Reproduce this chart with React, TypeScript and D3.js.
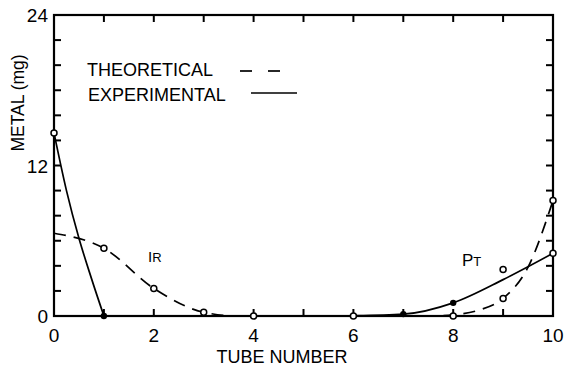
import React from "react";
import * as d3 from "d3";

// Tube positions along the x axis and the axis tick labels
const xTickLabels = [0, 2, 4, 6, 8, 10];
const xMinorTicks = [1, 2, 3, 4, 5, 6, 7, 8, 9];
const yTickLabels = [0, 12, 24];
const yMinorTicks = [2, 4, 6, 8, 10, 12, 14, 16, 18, 20, 22];

// Iridium: theoretical (dashed) and experimental (solid) distribution curves
const irTheoretical: [number, number][] = [[0, 6.6], [1, 5.4], [2, 2.2], [3, 0.3], [3.7, 0], [5, 0]];
const irExperimental: [number, number][] = [[0, 14.6], [0.25, 10.0], [0.5, 6.2], [0.75, 3.0], [1, 0]];

// Platinum: theoretical (dashed) and experimental (solid) distribution curves
const ptTheoretical: [number, number][] = [[5, 0], [7.6, 0], [8, 0.1], [8.5, 0.45], [9, 1.4], [9.5, 3.9], [10, 9.2]];
const ptExperimental: [number, number][] = [[5.5, 0], [6, 0.02], [7, 0.15], [8, 1.05], [9, 2.9], [10, 5.0]];

// Measured tube contents
const openPoints: [number, number][] = [[0, 14.6], [1, 5.4], [2, 2.2], [3, 0.3], [4, 0], [6, 0], [8, 0], [9, 1.4], [9, 3.7], [10, 9.2], [10, 5.0]];
const filledPoints: [number, number][] = [[1, 0], [7, 0.15], [8, 1.05]];

const W = 564;
const H = 366;
const FONT = "'Liberation Sans', Arial, sans-serif";

export default function App() {
  const x = d3.scaleLinear().domain([0, 10]).range([54, 553]);
  const y = d3.scaleLinear().domain([0, 24]).range([316, 15]);

  const line = d3
    .line<[number, number]>()
    .x((d) => x(d[0]))
    .y((d) => y(d[1]))
    .curve(d3.curveMonotoneX);

  const [x0, x1] = x.range();
  const [y0, y1] = y.range();

  return (
    <svg
      width={W}
      height={H}
      style={{ position: "absolute", left: 0, top: 0, background: "#fff" }}
      fontFamily={FONT}
    >
      <rect width={W} height={H} fill="#fff" />

      {/* curves */}
      <g fill="none" stroke="#000" strokeWidth={1.7}>
        <path d={line(irExperimental) || ""} />
        <path d={line(ptExperimental) || ""} />
        <path d={line(irTheoretical) || ""} strokeDasharray="12 8" />
        <path d={line(ptTheoretical) || ""} strokeDasharray="12 8" />
      </g>

      {/* frame */}
      <rect x={x0} y={y1} width={x1 - x0} height={y0 - y1} fill="none" stroke="#000" strokeWidth={2.2} />

      {/* inward ticks */}
      <g stroke="#000" strokeWidth={2}>
        {yMinorTicks.map((v) => (
          <g key={"y" + v}>
            <line x1={x0} x2={x0 + 7} y1={y(v)} y2={y(v)} />
            <line x1={x1} x2={x1 - 7} y1={y(v)} y2={y(v)} />
          </g>
        ))}
        {xMinorTicks.map((v) => (
          <g key={"x" + v}>
            <line x1={x(v)} x2={x(v)} y1={y1} y2={y1 + 7} />
            <line x1={x(v)} x2={x(v)} y1={y0} y2={y0 - 7} />
          </g>
        ))}
      </g>

      {/* data points */}
      {openPoints.map((p, i) => (
        <circle key={"o" + i} cx={x(p[0])} cy={y(p[1])} r={3} fill="#fff" stroke="#000" strokeWidth={1.5} />
      ))}
      {filledPoints.map((p, i) => (
        <circle key={"f" + i} cx={x(p[0])} cy={y(p[1])} r={3.2} fill="#000" />
      ))}

      {/* tick labels */}
      <g fontSize={19} fill="#000">
        {xTickLabels.map((v) => (
          <text key={"xl" + v} x={x(v)} y={342} textAnchor="middle">
            {v}
          </text>
        ))}
        {yTickLabels.map((v) => (
          <text key={"yl" + v} x={x0 - 6} y={y(v) + 7} textAnchor="end">
            {v}
          </text>
        ))}
      </g>

      {/* axis titles */}
      <text x={282} y={363} textAnchor="middle" fontSize={18}>
        TUBE NUMBER
      </text>
      <text transform="translate(24,103) rotate(-90)" textAnchor="middle" fontSize={17.5}>
        METAL (mg)
      </text>

      {/* legend */}
      <text x={87} y={76} fontSize={18}>THEORETICAL</text>
      <g stroke="#000" strokeWidth={1.7}>
        <line x1={240} x2={252} y1={71} y2={71} />
        <line x1={268} x2={280} y1={71} y2={71} />
        <line x1={251} x2={297} y1={93} y2={93} />
      </g>
      <text x={88} y={101} fontSize={18}>EXPERIMENTAL</text>

      {/* element labels */}
      <text x={148} y={262} fontSize={15}>
        I<tspan fontSize={13}>R</tspan>
      </text>
      <text x={462} y={266} fontSize={17}>
        P<tspan fontSize={13}>T</tspan>
      </text>
    </svg>
  );
}
